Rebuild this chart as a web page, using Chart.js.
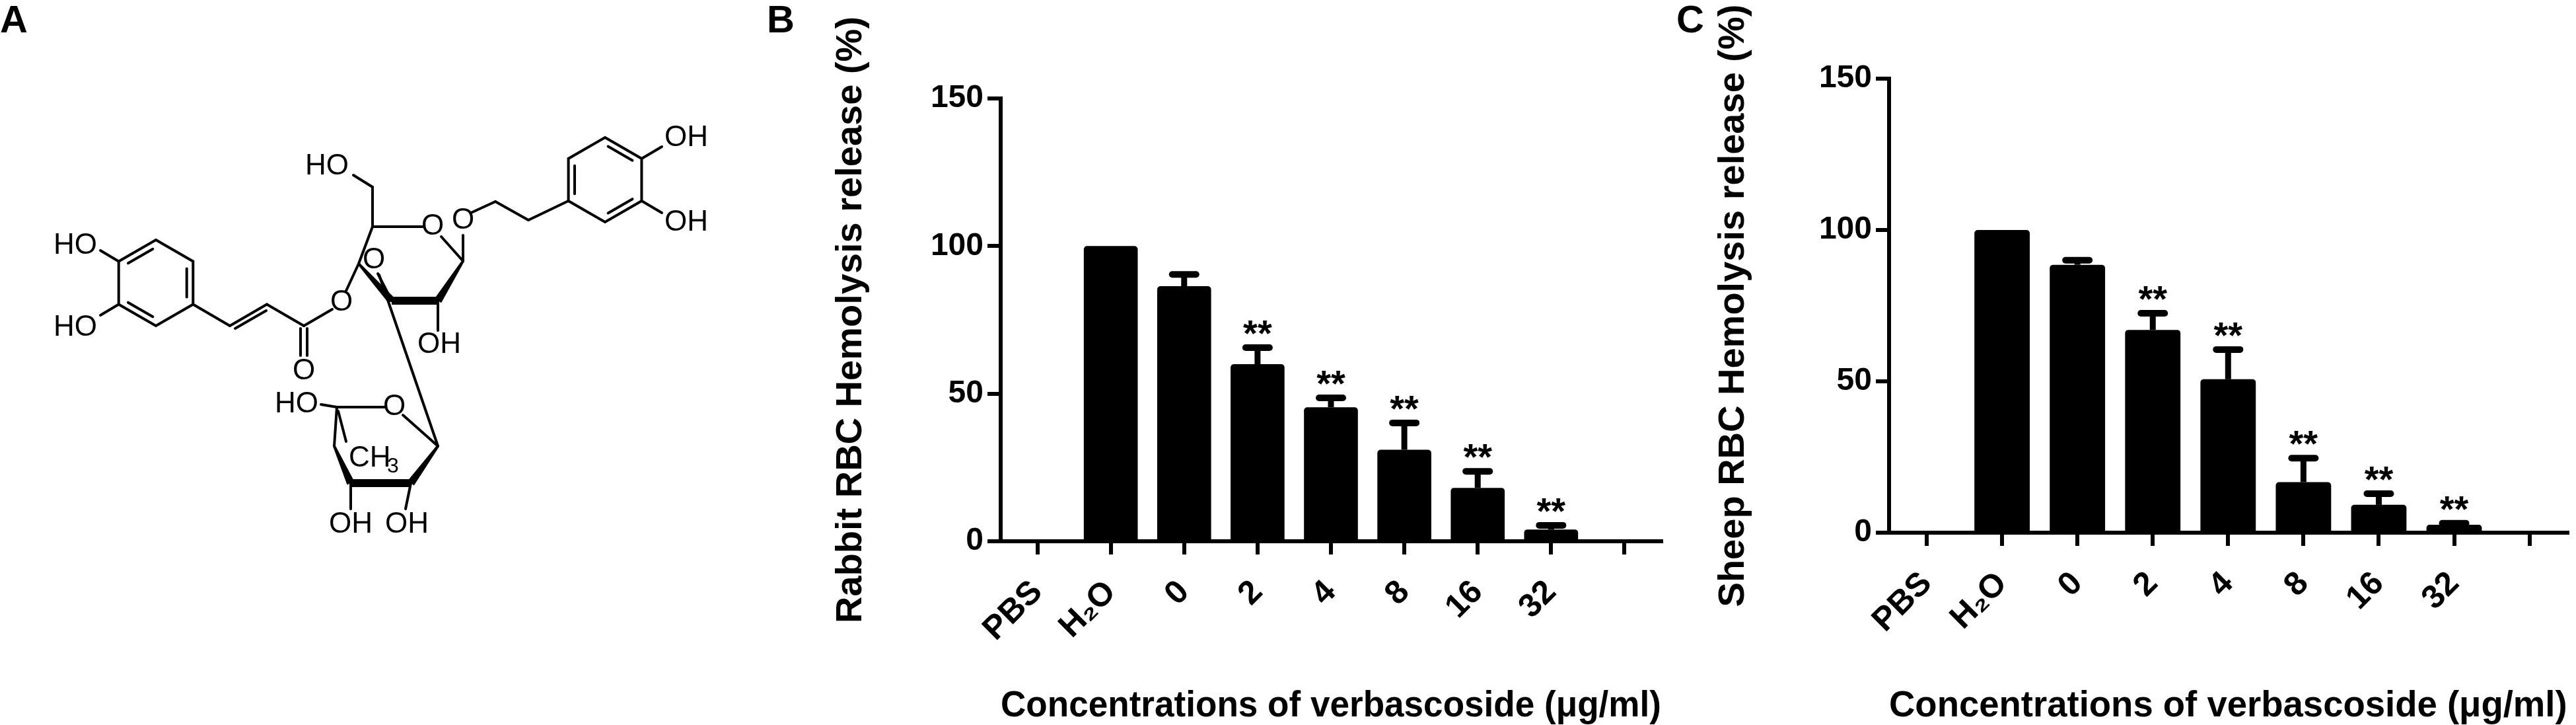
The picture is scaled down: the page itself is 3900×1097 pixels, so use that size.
<!DOCTYPE html>
<html>
<head>
<meta charset="utf-8">
<script src="https://cdn.jsdelivr.net/npm/chart.js@4.4.1/dist/chart.umd.min.js"></script>
<style>
html, body { margin: 0; padding: 0; background: #fff; }
body { width: 3900px; height: 1097px; position: relative; overflow: hidden; }
canvas { position: absolute; top: 0; }
#molecule { left: 0; }
#rabbitChart { left: 1230px; }
#sheepChart { left: 2570px; }
.panel { position: absolute; top: 0; font-family: "Liberation Sans", Arial, sans-serif; font-weight: bold; font-size: 58px; line-height: 58px; }
</style>
</head>
<body>
<canvas id="molecule" width="1230" height="1097"></canvas>
<canvas id="rabbitChart" width="1330" height="1097"></canvas>
<canvas id="sheepChart" width="1330" height="1097"></canvas>
<div class="panel" style="left:0px">A</div>
<div class="panel" style="left:1161px">B</div>
<div class="panel" style="left:2538px">C</div>
<script>
// data
var categories = ["PBS", "H\u2082O", "0", "2", "4", "8", "16", "32", ""];
var rabbitMeans = [0, 100, 86.4, 60, 45.4, 31, 18.1, 4, null];
var rabbitErrors = [0, 0, 4, 5.6, 3.2, 9.1, 5.6, 1.4, null];
var sheepMeans = [0, 100, 88.5, 67, 50.7, 16.7, 9.2, 2.6, null];
var sheepErrors = [0, 0, 1.5, 5.5, 9.8, 7.9, 3.7, 0.5, null];
var stars = ["", "", "", "**", "**", "**", "**", "**", ""];
var yTicks = [0, 50, 100, 150];
var xTitle = "Concentrations of verbascoside (\u03bcg/ml)";

var FONT = '"Liberation Sans", Arial, sans-serif';

// error bars + significance marks, placed with the y scale
var errorBars = {
	id: "errorBars",
	afterDatasetsDraw: function(chart, args, opts) {
		var ctx = chart.ctx;
		var y = chart.scales.y;
		var means = chart.data.datasets[0].data;
		var meta = chart.getDatasetMeta(0);
		ctx.save();
		ctx.strokeStyle = "#000";
		ctx.fillStyle = "#000";
		meta.data.forEach(function(bar, i) {
			if (means[i] == null) return;
			var err = opts.errors[i] || 0;
			var base = y.getPixelForValue(means[i]);
			var top = y.getPixelForValue(means[i] + err);
			if (err > 0) {
				ctx.lineCap = "butt";
				ctx.lineWidth = 9;
				ctx.beginPath();
				ctx.moveTo(bar.x, base);
				ctx.lineTo(bar.x, top);
				ctx.stroke();
				ctx.lineCap = "round";
				ctx.lineWidth = 10;
				ctx.beginPath();
				ctx.moveTo(bar.x - 18, top);
				ctx.lineTo(bar.x + 18, top);
				ctx.stroke();
			}
			if (opts.stars[i]) {
				ctx.font = "bold 56px " + FONT;
				ctx.textAlign = "center";
				ctx.textBaseline = "alphabetic";
				ctx.fillText(opts.stars[i], bar.x, top - 3);
			}
		});
		ctx.restore();
	}
};

function makeChart(id, means, errors, yTitle, g) {
	return new Chart(document.getElementById(id), {
		type: "bar",
		data: {
			labels: categories,
			datasets: [{
				data: means,
				backgroundColor: "#000",
				borderWidth: 0,
				borderRadius: 5,
				barPercentage: 0.735,
				categoryPercentage: 1.0
			}]
		},
		plugins: [errorBars],
		options: {
			responsive: false,
			animation: false,
			devicePixelRatio: 1,
			layout: { padding: { top: g.top, left: 0, right: g.right, bottom: 0 } },
			plugins: {
				legend: { display: false },
				tooltip: { enabled: false },
				errorBars: { errors: errors, stars: stars }
			},
			scales: {
				x: {
					offset: true,
					grid: { offset: false, drawOnChartArea: false, tickLength: 20, tickWidth: 6, tickColor: "#000", color: "#000", lineWidth: 6 },
					border: { display: true, color: "#000", width: 6 },
					ticks: { color: "#000", autoSkip: false, minRotation: 45, maxRotation: 45, padding: 28, font: { family: FONT, size: 50, weight: "bold" } },
					title: { display: true, text: xTitle, color: "#000", padding: 0, font: { family: FONT, size: 56, weight: "bold", lineHeight: 1 } },
					afterFit: function(s) { s.height = g.xHeight; }
				},
				y: {
					min: 0,
					max: 150,
					afterBuildTicks: function(s) { s.ticks = yTicks.map(function(v) { return { value: v }; }); },
					grid: { drawOnChartArea: false, tickLength: 20, tickWidth: 6, tickColor: "#000", color: "#000", lineWidth: 6 },
					border: { display: true, color: "#000", width: 6 },
					ticks: { color: "#000", padding: 6, font: { family: FONT, size: 48, weight: "bold" } },
					title: { display: true, text: yTitle, color: "#000", padding: { top: g.titlePad, bottom: 0 }, font: { family: FONT, size: 56, weight: "bold", lineHeight: 1 } },
					afterFit: function(s) { s.width = g.yWidth; }
				}
			}
		}
	});
}

makeChart("rabbitChart", rabbitMeans, rabbitErrors, "Rabbit RBC Hemolysis release (%)",
	{ top: 149, right: 45, xHeight: 278, yWidth: 285, titlePad: 31 });
makeChart("sheepChart", sheepMeans, sheepErrors, "Sheep RBC Hemolysis release (%)",
	{ top: 119, right: 0, xHeight: 291, yWidth: 290, titlePad: 27 });

// panel A: verbascoside structure
var mol = document.getElementById("molecule").getContext("2d");
mol.strokeStyle = "#000";
mol.fillStyle = "#000";
mol.lineWidth = 4;
mol.lineCap = "round";

function line(x1, y1, x2, y2) {
	mol.beginPath();
	mol.moveTo(x1, y1);
	mol.lineTo(x2, y2);
	mol.stroke();
}
function wedge(x1, y1, w1, x2, y2, w2) {
	var dx = x2 - x1, dy = y2 - y1, l = Math.sqrt(dx * dx + dy * dy);
	var nx = -dy / l, ny = dx / l;
	mol.beginPath();
	mol.moveTo(x1 + nx * w1 / 2, y1 + ny * w1 / 2);
	mol.lineTo(x2 + nx * w2 / 2, y2 + ny * w2 / 2);
	mol.lineTo(x2 - nx * w2 / 2, y2 - ny * w2 / 2);
	mol.lineTo(x1 - nx * w1 / 2, y1 - ny * w1 / 2);
	mol.closePath();
	mol.fill();
}
function ring(cx, cy, r, inner) {
	var v = [];
	for (var k = 0; k < 6; k++) {
		var a = (-90 + 60 * k) * Math.PI / 180;
		v.push([cx + r * Math.cos(a), cy + r * Math.sin(a)]);
	}
	mol.beginPath();
	mol.moveTo(v[0][0], v[0][1]);
	for (var k = 1; k < 6; k++) mol.lineTo(v[k][0], v[k][1]);
	mol.closePath();
	mol.stroke();
	inner.forEach(function(i) {
		var a = v[i], b = v[(i + 1) % 6], f = 0.17;
		var ax = a[0] + (cx - a[0]) * f, ay = a[1] + (cy - a[1]) * f;
		var bx = b[0] + (cx - b[0]) * f, by = b[1] + (cy - b[1]) * f;
		line(ax + (bx - ax) * 0.1, ay + (by - ay) * 0.1, bx - (bx - ax) * 0.1, by - (by - ay) * 0.1);
	});
	return v;
}
function label(t, x, y, align) {
	mol.font = "44px " + FONT;
	mol.textAlign = align || "center";
	mol.textBaseline = "middle";
	mol.fillText(t, x, y);
}

// left caffeoyl ring
var L = ring(236, 428, 65, [5, 1, 3]);
line(L[5][0], L[5][1], 152, 379);
line(L[4][0], L[4][1], 152, 477);
label("HO", 147, 372, "right");
label("HO", 147, 496, "right");
// propenoyl chain
line(L[2][0], L[2][1], 348, 493);
line(348, 493, 404, 460.5);
line(356, 497, 403, 470);
line(404, 460.5, 460, 493);
line(460, 493, 503, 468);
line(455, 497, 455, 538);
line(465, 497, 465, 538);
label("O", 460, 562);
label("O", 517, 458);
line(524, 440, 543, 399);
// glucose
line(543, 399, 564, 343);
line(564, 343, 640, 343);
label("O", 655, 343);
line(668, 358, 701, 395);
wedge(701, 395, 4, 663, 455, 12);
wedge(663, 455, 12, 593, 455, 12);
wedge(593, 455, 12, 543, 399, 4);
line(701, 395, 701, 356);
label("O", 701, 334);
line(713, 322, 750, 305);
line(750, 305, 800, 333);
line(564, 343, 564, 283);
line(564, 283, 535, 265);
label("HO", 528, 252, "right");
line(663, 455, 663, 500);
label("OH", 665, 522);
line(593, 455, 572, 414);
label("O", 566, 394);
line(574, 416, 663, 675);
// rhamnose
line(510, 616, 583, 616);
label("O", 597, 616);
line(610, 628, 663, 675);
wedge(663, 675, 4, 622, 731, 12);
wedge(622, 731, 12, 531, 731, 12);
wedge(531, 731, 12, 506, 675, 4);
line(506, 675, 510, 616);
line(510, 616, 486, 612);
label("HO", 482, 612, "right");
line(512, 622, 524, 668);
label("CH", 528, 694, "left");
mol.font = "32px " + FONT;
mol.textAlign = "left";
mol.fillText("3", 586, 706);
line(531, 731, 531, 770);
line(622, 731, 614, 770);
label("OH", 531, 794);
label("OH", 616, 794);
// right hydroxytyrosol ring
var R = ring(916, 272, 64, [4, 0, 2]);
line(800, 333, R[4][0], R[4][1]);
line(R[1][0], R[1][1], 1002, 222);
line(R[2][0], R[2][1], 1002, 322);
label("OH", 1006, 209, "left");
label("OH", 1006, 337, "left");
</script>
</body>
</html>
